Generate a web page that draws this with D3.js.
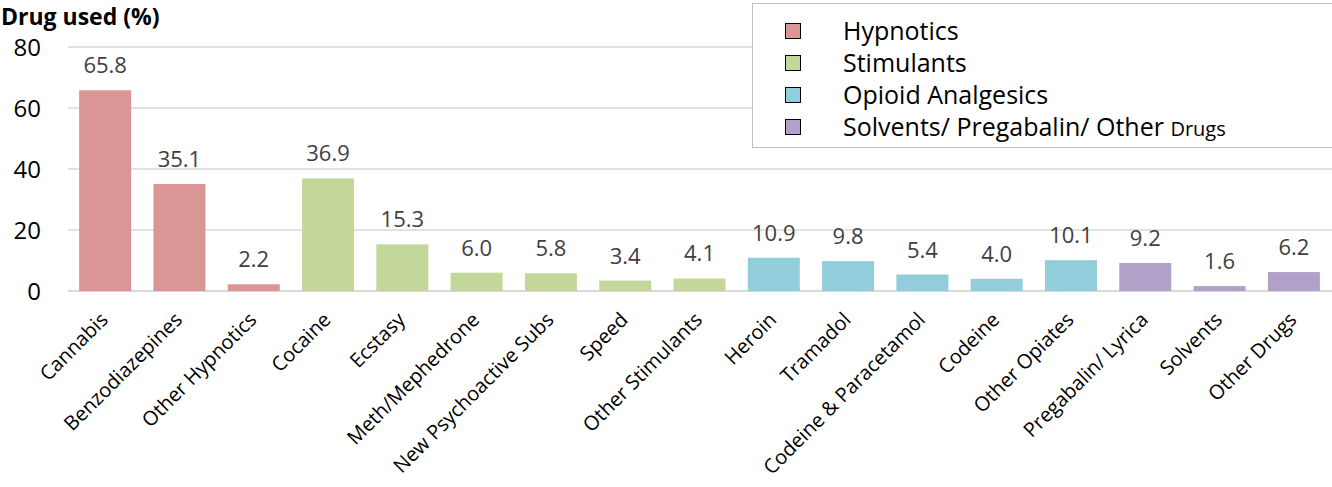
<!DOCTYPE html>
<html>
<head>
<meta charset="utf-8">
<script src="https://cdn.jsdelivr.net/npm/d3@7"></script>
<style>
  body { margin: 0; background: #fff; }
  svg { display: block; font-family: "Open Sans", "Noto Sans", sans-serif; }
</style>
</head>
<body>
<svg id="chart" width="1332" height="487"></svg>
<script>
const categories = ["Cannabis", "Benzodiazepines", "Other Hypnotics", "Cocaine", "Ecstasy",
  "Meth/Mephedrone", "New Psychoactive Subs", "Speed", "Other Stimulants", "Heroin",
  "Tramadol", "Codeine & Paracetamol", "Codeine", "Other Opiates", "Pregabalin/ Lyrica",
  "Solvents", "Other Drugs"];
const values = [65.8, 35.1, 2.2, 36.9, 15.3, 6.0, 5.8, 3.4, 4.1, 10.9, 9.8, 5.4, 4.0, 10.1, 9.2, 1.6, 6.2];
const groups = ["Hypnotics", "Hypnotics", "Hypnotics", "Stimulants", "Stimulants", "Stimulants",
  "Stimulants", "Stimulants", "Stimulants", "Opioid Analgesics", "Opioid Analgesics",
  "Opioid Analgesics", "Opioid Analgesics", "Opioid Analgesics", "Other", "Other", "Other"];
const groupNames = ["Hypnotics", "Stimulants", "Opioid Analgesics", "Other"];
const groupColors = ["#DA9694", "#C4D79B", "#92CDDC", "#B1A0C7"];
const yTicks = [0, 20, 40, 60, 80];

const svg = d3.select("#chart");
const margin = { left: 68, right: 1, top: 47, bottom: 196 };
const W = 1332, H = 487;

const x = d3.scaleBand().domain(categories).range([margin.left, W - margin.right])
  .paddingInner(0.3).paddingOuter(0.15);
const y = d3.scaleLinear().domain([0, 80]).range([H - margin.bottom, margin.top]);
const color = d3.scaleOrdinal().domain(groupNames).range(groupColors);

// gridlines
svg.append("g").selectAll("line").data(yTicks).join("line")
  .attr("x1", margin.left).attr("x2", W)
  .attr("y1", d => y(d)).attr("y2", d => y(d))
  .attr("stroke", "#d9d9d9").attr("stroke-width", d => d === 0 ? 2 : 1.5);

// y axis labels
const yAxis = d3.axisLeft(y).tickValues(yTicks).tickSize(0).tickPadding(0);
const ya = svg.append("g").attr("transform", `translate(41,0)`).call(yAxis);
ya.select(".domain").remove();
ya.selectAll("text").attr("font-size", 24).attr("fill", "#000")
  .attr("font-family", "'Open Sans', sans-serif").attr("dy", "0.35em");

// bars
const data = categories.map((c, i) => ({ c, v: values[i], g: groups[i] }));
svg.append("g").selectAll("rect").data(data).join("rect")
  .attr("x", d => x(d.c)).attr("width", x.bandwidth())
  .attr("y", d => y(d.v)).attr("height", d => y(0) - y(d.v))
  .attr("fill", d => color(d.g));

// value labels
svg.append("g").selectAll("text").data(data).join("text")
  .attr("x", d => x(d.c) + x.bandwidth() / 2)
  .attr("y", d => y(d.v) - 17)
  .attr("text-anchor", "middle")
  .attr("font-size", 22).attr("fill", "#404040")
  .text(d => d.v.toFixed(1));

// category labels
const xAxis = d3.axisBottom(x).tickSize(0).tickPadding(0);
const xa = svg.append("g").attr("transform", `translate(0,${y(0)})`).call(xAxis);
xa.select(".domain").remove();
xa.selectAll("text")
  .attr("font-size", 20).attr("fill", "#000")
  .attr("font-family", "'Open Sans', sans-serif")
  .attr("text-anchor", "end")
  .attr("dy", 0)
  .attr("transform", "translate(4,30) rotate(-45)");

// title
svg.append("text").attr("x", 1).attr("y", 25)
  .attr("font-size", 23).attr("font-weight", "bold").attr("fill", "#000")
  .text("Drug used (%)");

// legend
const lg = svg.append("g");
lg.append("rect").attr("x", 752.5).attr("y", 3.5).attr("width", 585).attr("height", 144)
  .attr("fill", "#fff").attr("stroke", "#bfbfbf").attr("stroke-width", 1);
const legendLabels = ["Hypnotics", "Stimulants", "Opioid Analgesics", "Solvents/ Pregabalin/ Other "];
const items = lg.selectAll("g.item").data(groupNames).join("g").attr("class", "item")
  .attr("transform", (d, i) => `translate(785,${31 + i * 32})`);
items.append("rect").attr("x", 0.5).attr("y", -7.5).attr("width", 15).attr("height", 15)
  .attr("fill", d => color(d)).attr("stroke", "#000").attr("stroke-width", 1);
const lt = items.append("text").attr("x", 58).attr("y", 0).attr("dy", "0.35em")
  .attr("font-size", 25).attr("fill", "#000")
  .text((d, i) => legendLabels[i]);
lt.filter((d, i) => i === 3).append("tspan").attr("font-size", 20).text("Drugs");
</script>
</body>
</html>
